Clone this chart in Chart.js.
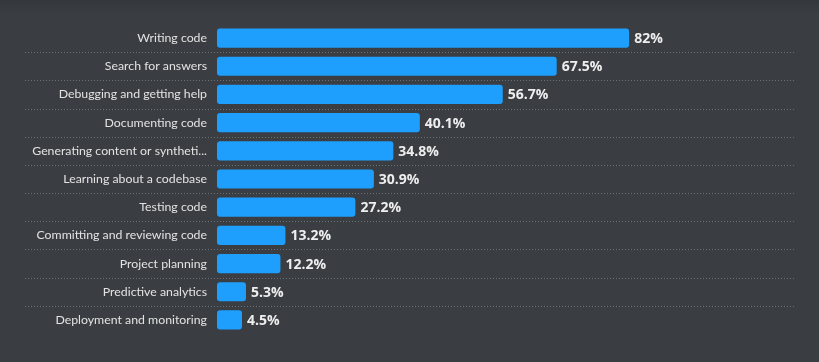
<!DOCTYPE html>
<html>
<head>
<meta charset="utf-8">
<script src="https://cdn.jsdelivr.net/npm/chart.js@4/dist/chart.umd.min.js"></script>
<style>
  html, body { margin: 0; padding: 0; background: #3a3e42; }
  #wrap { width: 819px; height: 362px; position: relative;
    background: linear-gradient(#34383c 0px, #3a3e42 14px, #3a3e42 100%); }
</style>
</head>
<body>
<div id="wrap"><canvas id="c" width="819" height="362"></canvas></div>
<script>
const categories = [
  "Writing code",
  "Search for answers",
  "Debugging and getting help",
  "Documenting code",
  "Generating content or syntheti...",
  "Learning about a codebase",
  "Testing code",
  "Committing and reviewing code",
  "Project planning",
  "Predictive analytics",
  "Deployment and monitoring"
];
const values = [82, 67.5, 56.7, 40.1, 34.8, 30.9, 27.2, 13.2, 12.2, 5.3, 4.5];
const valueLabels = ["82%", "67.5%", "56.7%", "40.1%", "34.8%", "30.9%", "27.2%", "13.2%", "12.2%", "5.3%", "4.5%"];

const FONT = "'Open Sans', 'Noto Sans', sans-serif";
const LABEL_FONT = "Lato, 'Open Sans', sans-serif";

const dividers = {
  id: 'dividers',
  beforeDatasetsDraw(chart) {
    const ctx = chart.ctx;
    const y = chart.scales.y;
    ctx.save();
    ctx.strokeStyle = 'rgba(150,155,160,0.55)';
    ctx.lineWidth = 1;
    ctx.setLineDash([1, 2]);
    for (let i = 0; i < categories.length - 1; i++) {
      const yy = Math.round((y.getPixelForValue(i) + y.getPixelForValue(i + 1)) / 2) + 0.5;
      ctx.beginPath();
      ctx.moveTo(25, yy);
      ctx.lineTo(795, yy);
      ctx.stroke();
    }
    ctx.restore();
  }
};

const valueText = {
  id: 'valueText',
  afterDatasetsDraw(chart) {
    const ctx = chart.ctx;
    const meta = chart.getDatasetMeta(0);
    ctx.save();
    ctx.fillStyle = '#eeeeee';
    ctx.font = "bold 14px " + FONT;
    ctx.textBaseline = 'middle';
    ctx.textAlign = 'left';
    meta.data.forEach((bar, i) => {
      ctx.fillText(valueLabels[i], bar.x + 5, bar.y + 1);
    });
    ctx.restore();
  }
};

new Chart(document.getElementById('c'), {
  type: 'bar',
  data: {
    labels: categories,
    datasets: [{
      data: values,
      base: -0.5,
      backgroundColor: '#1e9ffd',
      borderWidth: 0,
      borderRadius: 3,
      borderSkipped: false,
      barPercentage: 0.68,
      categoryPercentage: 1.0
    }]
  },
  options: {
    indexAxis: 'y',
    responsive: false,
    animation: false,
    layout: { padding: { top: 24, bottom: 28, right: 24, left: 0 } },
    plugins: { legend: { display: false }, tooltip: { enabled: false } },
    scales: {
      x: { display: false, min: -0.5, max: 115.2 },
      y: {
        afterFit(scale) { scale.width = 217; },
        grid: { display: false, drawTicks: false },
        border: { display: false },
        ticks: { color: '#e2e2e2', padding: 10, font: { family: LABEL_FONT, size: 12.3 }, autoSkip: false }
      }
    }
  },
  plugins: [dividers, valueText]
});
</script>
</body>
</html>
